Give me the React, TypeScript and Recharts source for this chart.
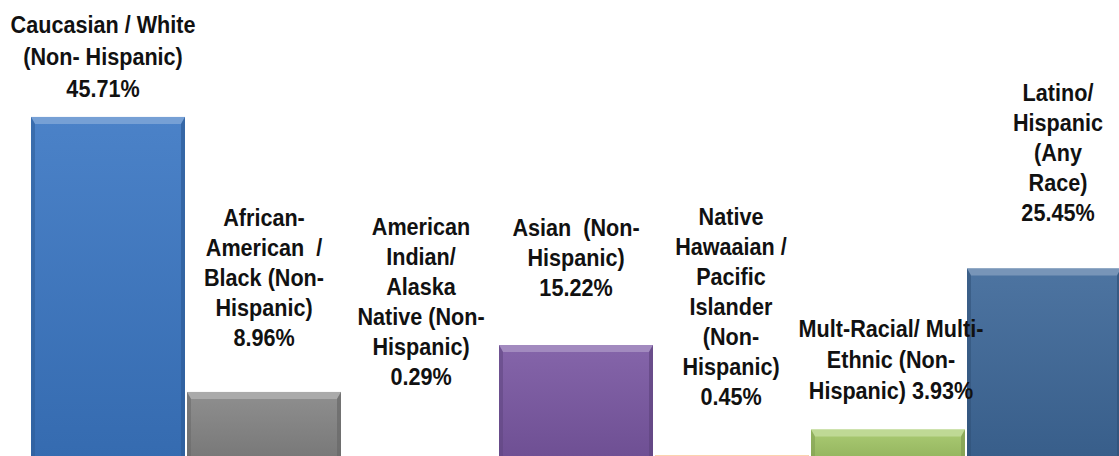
import React from "react";
import { BarChart, Bar, XAxis, YAxis, Cell, LabelList } from "recharts";

const categories: string[][] = [
  ["Caucasian / White", "(Non- Hispanic)"],
  ["African-", "American  /", "Black (Non-", "Hispanic)"],
  ["American", "Indian/", "Alaska", "Native (Non-", "Hispanic)"],
  ["Asian  (Non-", "Hispanic)"],
  ["Native", "Hawaaian /", "Pacific", "Islander", "(Non-", "Hispanic)"],
  ["Mult-Racial/ Multi-", "Ethnic (Non-", "Hispanic)"],
  ["Latino/", "Hispanic", "(Any", "Race)"],
];
const values: number[] = [45.71, 8.96, 0.29, 15.22, 0.45, 3.93, 25.45];
// whether the value sits on the same line as the last name line
const valueInline: boolean[] = [false, false, false, false, false, true, false];

const barColors = ["#3b77c3", "#858585", "#c0504d", "#7a58a3", "#f79646", "#a4c868", "#3e6899"];

// label layout (offsets relative to the bar top computed by the scale)
const labelLayout = [
  { dx: -5, lift: 20, lh: 32 },
  { dx: 0, lift: 46, lh: 30 },
  { dx: 1, lift: 72, lh: 30 },
  { dx: 0, lift: 49, lh: 30 },
  { dx: -1, lift: 51, lh: 30 },
  { dx: 3, lift: 31, lh: 31 },
  { dx: 14, lift: 48, lh: 30 },
];

const data = categories.map((lines, i) => ({
  name: lines.join(" "),
  lines,
  value: values[i],
}));

function mix(hex: string, target: string, t: number) {
  const p = (h: string) => [1, 3, 5].map((k) => parseInt(h.slice(k, k + 2), 16));
  const a = p(hex);
  const b = p(target);
  const c = a.map((v, k) => Math.round(v + (b[k] - v) * t));
  return "#" + c.map((v) => v.toString(16).padStart(2, "0")).join("");
}

const BevelBar = (props: any) => {
  const { x, y, width, height, index } = props;
  if (width == null || height == null || height <= 0) return null;
  const base = barColors[index] ?? props.fill;
  const b = Math.min(7, height / 2);
  const s = Math.min(4, width / 2);
  const light = mix(base, "#ffffff", 0.3);
  const dark = mix(base, "#000000", 0.22);
  return (
    <g>
      <rect x={x} y={y} width={width} height={height} fill={`url(#grad${index})`} />
      <polygon
        points={`${x},${y} ${x + width},${y} ${x + width - s},${y + b} ${x + s},${y + b}`}
        fill={light}
      />
      <polygon
        points={`${x},${y} ${x + s},${y + b} ${x + s},${y + height} ${x},${y + height}`}
        fill={dark}
        opacity={0.55}
      />
      <polygon
        points={`${x + width},${y} ${x + width - s},${y + b} ${x + width - s},${y + height} ${x + width},${y + height}`}
        fill={dark}
        opacity={0.7}
      />
    </g>
  );
};

const MultiLineLabel = (props: any) => {
  const { x, y, width, index } = props;
  if (x == null || y == null) return null;
  const d = data[index];
  const lay = labelLayout[index];
  const valText = d.value.toFixed(2) + "%";
  const lines = [...d.lines];
  if (valueInline[index]) lines[lines.length - 1] = lines[lines.length - 1] + " " + valText;
  else lines.push(valText);
  const cx = x + width / 2 + lay.dx;
  const lastY = y - lay.lift;
  const n = lines.length;
  return (
    <g>
      {lines.map((ln, k) => (
        <text
          key={k}
          x={0}
          y={0}
          transform={`translate(${cx},${lastY - (n - 1 - k) * lay.lh}) scale(0.9,1)`}
          textAnchor="middle"
          fill="#111"
          style={{
            fontFamily: "'Liberation Sans', Arial, sans-serif",
            fontWeight: 700,
            fontSize: 24,
            whiteSpace: "pre",
          }}
        >
          {ln}
        </text>
      ))}
    </g>
  );
};

export default function App() {
  return (
    <div
      style={{
        position: "absolute",
        left: 0,
        top: 0,
        width: 1119,
        height: 456,
        overflow: "hidden",
        background: "#fff",
      }}
    >
      <BarChart
        width={1122}
        height={459}
        data={data}
        margin={{ top: 10, right: 0, left: 30, bottom: 0 }}
        barCategoryGap={1}
      >
        <defs>
          {barColors.map((c, i) => (
            <linearGradient key={i} id={`grad${i}`} x1="0" y1="0" x2="0" y2="1">
              <stop offset="0%" stopColor={mix(c, "#ffffff", 0.08)} />
              <stop offset="100%" stopColor={mix(c, "#000000", 0.1)} />
            </linearGradient>
          ))}
        </defs>
        <XAxis dataKey="name" hide />
        <YAxis hide domain={[0, 60]} />
        <Bar dataKey="value" isAnimationActive={false} shape={BevelBar}>
          {data.map((_, i) => (
            <Cell key={i} fill={barColors[i]} />
          ))}
          <LabelList dataKey="value" content={MultiLineLabel} />
        </Bar>
      </BarChart>
    </div>
  );
}
